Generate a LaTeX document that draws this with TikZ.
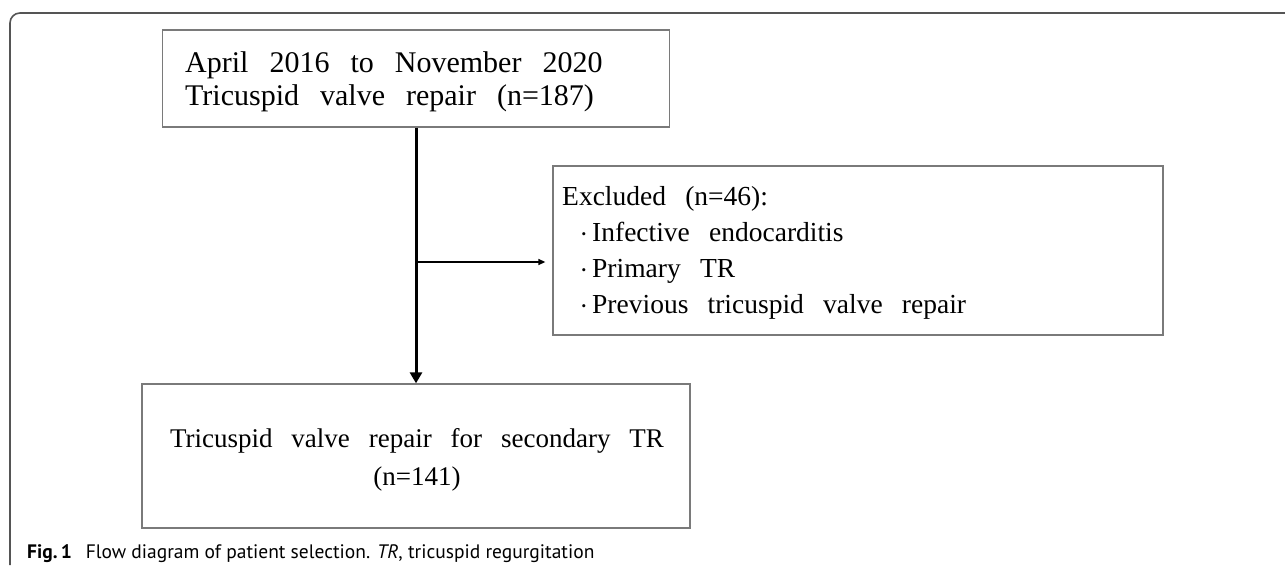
\documentclass[tikz,border=0pt]{standalone}
\usepackage{fontspec}
\setmainfont[WordSpace=2.8]{Liberation Serif}
\newfontfamily\captfont{PT Sans}
\usetikzlibrary{arrows.meta}
\definecolor{framegray}{HTML}{555555}
\definecolor{boxgray}{HTML}{7A7A7A}
\newcommand\bul{\makebox[30pt][r]{\raisebox{2.5pt}{\fontsize{13}{13}\selectfont •}\hspace{6pt}}}
\tikzset{
  box/.style={draw=boxgray, line width=1.3pt, rectangle, inner sep=0pt},
  frameline/.style={draw=framegray, line width=1.6pt},
  mainarrow/.style={line width=3pt, -{Triangle[length=11pt,width=12pt]}},
  sidearrow/.style={line width=1.3pt, -{Triangle[length=7pt,width=6pt]}},
  txt/.style={inner sep=0pt, text=black}
}
\begin{document}
\begin{tikzpicture}[x=1pt,y=-1pt]
\useasboundingbox (0,0) rectangle (1285,565);
\fill[white] (0,0) rectangle (1285,565);
% outer frame
\draw[frameline, rounded corners=10pt] (10,565) -- (10,13) -- (1285,13);
% boxes
\node[box, minimum width=507pt, minimum height=97pt] (top) at (416,78.5) {};
\node[box, minimum width=610pt, minimum height=169pt] (excl) at (858,250.5) {};
\node[box, minimum width=548pt, minimum height=144pt] (bottom) at (416,456) {};
% texts
\node[txt, anchor=west, align=left, font=\fontsize{30}{33}\selectfont] (toptext) at (185,81.5)
  {April 2016 to November 2020\\Tricuspid valve repair (n=187)};
\node[txt, anchor=west, align=left, font=\fontsize{27.5}{36}\selectfont] (excltext) at (562,252.6)
  {Excluded (n=46):\\\bul Infective endocarditis\\\bul Primary TR\\\bul Previous tricuspid valve repair};
\node[txt, align=center, font=\fontsize{27}{38}\selectfont] (bottomtext) at (417,460.2)
  {Tricuspid valve repair for secondary TR\\(n=141)};
% connectors
\draw[mainarrow] (top.south) -- (bottom.north);
\coordinate (junction) at (416,262);
\draw[sidearrow, shorten >=7pt] (junction) -- (junction -| excl.west);
% caption
\node[txt, anchor=base west, font=\captfont\fontsize{19.5}{22}\selectfont] (caption) at (27,558)
  {\textbf{Fig.\,1}\hspace{14pt}Flow diagram of patient selection. \textit{TR}, tricuspid regurgitation};
\end{tikzpicture}
\end{document}
